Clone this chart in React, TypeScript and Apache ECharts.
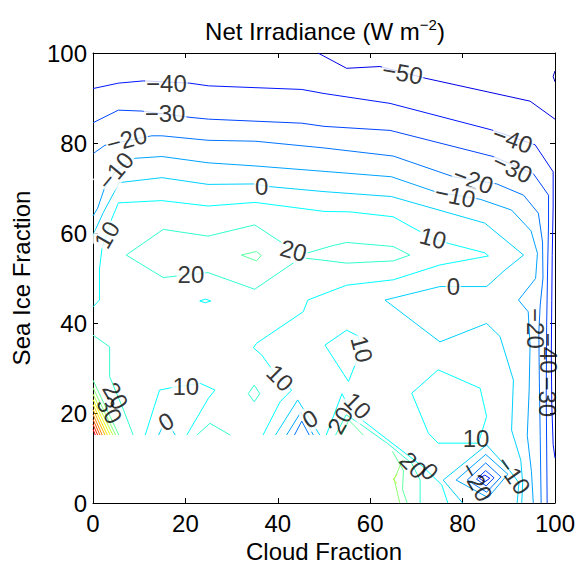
import React, { useEffect, useRef } from "react";
import * as echarts from "echarts";

const FONT = "'Liberation Sans', Arial, Helvetica, sans-serif";

const xTicks = [0, 20, 40, 60, 80, 100];
const yTicks = [0, 20, 40, 60, 80, 100];

// ---- contour polylines, [cloud fraction, sea ice fraction] ----
const cM60 = [[100, 96.0], [99.6, 94.8], [100, 93.6]];
const cM50 = [[48.7, 100], [54.9, 96.6], [62.1, 97.0], [71.9, 94.4], [94.6, 89.3], [100, 85.3]];
const cM40 = [[0, 92.1], [5.5, 93.3], [10.9, 93.8], [20.9, 93.3], [25.0, 92.7], [45.2, 91.9], [50, 91.0], [64.3, 88.8], [86.3, 82.9], [95.7, 79.6], [99.6, 73.6], [99.6, 66], [99.4, 55], [99.3, 45], [99.2, 33], [99.3, 22], [99.6, 13], [100, 10]];
const cM30 = [[0, 84.5], [5.5, 87.3], [10.5, 87.1], [21.0, 85.7], [25.0, 85.3], [45.2, 84.4], [50, 83.7], [64.3, 82.8], [86.6, 77.0], [95.3, 73.2], [98.6, 68.4], [98.6, 62], [98.4, 52], [98.2, 40], [98.1, 23.6], [98.2, 12], [98.3, 0]];
const cM20 = [[0.1, 77.7], [2.6, 79.5], [12.7, 81.6], [14.9, 81.6], [24.9, 80.6], [35.1, 80.4], [50, 78.9], [65.0, 77.1], [78.0, 72.5], [87.4, 70.9], [93.2, 68.4], [96.4, 64.4], [97.3, 58], [97.4, 50], [96.8, 44], [96.5, 38], [96.6, 28], [96.8, 15], [97.0, 0]];
const cM10 = [[0, 63.8], [1.0, 65.5], [2.5, 70.0], [4.9, 73.8], [9.1, 76.6], [14.9, 77.0], [24.9, 75.6], [35.1, 74.9], [50, 73.7], [64.6, 72.5], [74.0, 69.2], [83.8, 67.5], [90.6, 65.1], [94.8, 60.5], [96.2, 55.5], [95.8, 49.9], [92.1, 45.1], [94.2, 42.5], [94.6, 35], [94.4, 25], [94.0, 15], [94.9, 7], [95.3, 0]];
const c0 = [[0, 59.5], [2.2, 64.5], [5.7, 71.2], [14.9, 72.3], [24.9, 70.8], [34.7, 70.9], [38.3, 70.3], [50, 69.2], [64.6, 68.1], [84.8, 62.2], [93.2, 55.1], [89.2, 51.8], [85.2, 48.1], [75.1, 48.1], [63.2, 45.1], [75.1, 35.8], [85.2, 39.9], [88.1, 37.0], [91.0, 27.3], [90.6, 16.2], [92.6, 9.5], [93.0, 4.5], [92.8, 0]];
const c10 = [[0, 43.6], [1.4, 45.1], [1.4, 52], [2.0, 57], [3.0, 59.5], [3.8, 62.5], [5.5, 66.7], [14.9, 67.2], [24.9, 66.0], [35.1, 66.8], [50, 64.8], [55.6, 64.7], [65.0, 63.6], [70.8, 60.3], [73.7, 58.8], [76.9, 57.7], [84.8, 55.6], [85.6, 54.9], [83.0, 54.4], [75.1, 52.9], [65.0, 49.6], [54.9, 48.4], [51.3, 47.0], [46.5, 45.1], [45.5, 42.5], [35.4, 35.5], [34.7, 34.5], [36.5, 32.9], [39.6, 28.5], [43.0, 25.1], [40.5, 22.5], [36.8, 15.1]];
const c20 = [[7.2, 55.1], [15.2, 60.8], [24.9, 59.3], [35.0, 61.8], [41.1, 57.7], [46.2, 55.5], [51.9, 57.2], [54.9, 57.9], [65.0, 57.0], [68.6, 55.1], [65.0, 53.8], [54.9, 53.3], [49.5, 54.0], [45.0, 54.5], [35.0, 47.5], [24.9, 51.2], [15.2, 50.1], [7.2, 55.1]];
const c30Peak = [[32.1, 55.1], [35.4, 55.9], [36.4, 55.0], [35.4, 53.8], [32.1, 55.1]];
const c10Ellipse = [[23.1, 44.9], [24.3, 45.3], [25.5, 44.9], [24.3, 44.5], [23.1, 44.9]];
const c20Left = [[0, 37.3], [3.6, 34.7], [3.6, 28.1], [6.6, 20.7], [8.7, 15.1]];
const c10Hill = [[11.3, 15.1], [14.4, 25.1], [16.8, 25.6], [23.2, 26.6], [26.4, 25.1], [25.0, 23.3], [20.3, 15.1]];
const c0Small = [[14.2, 15.1], [15.8, 18.5], [17.8, 15.1]];
const c20Small = [[22.5, 15.1], [25.3, 17.7], [29.7, 15.1]];
const c20Diamond = [[33.6, 24.3], [34.9, 26.2], [36.1, 24.3], [34.9, 22.5], [33.6, 24.3]];
const c0Peak = [[39.5, 15.1], [44.3, 22.9], [49.1, 15.1]];
const cM10Peak = [[41.9, 15.1], [45.0, 20.2], [47.7, 15.1]];
const cM20Peak = [[43.6, 15.1], [45.2, 18.2], [46.8, 15.1]];
const c10Diamond = [[50.2, 35.1], [54.9, 38.4], [57.4, 37.1], [58.0, 34.0], [55.3, 27.0], [50.2, 35.1]];
const c10Fan = [[50.5, 15.1], [53.9, 24.3], [55.2, 21.5], [57.8, 18.8], [63.6, 14.2], [71.5, 8.0], [75.5, 4.0], [76.8, 0]];
const c20Fan = [[52.5, 15.1], [54.8, 19.6], [57.5, 17.8], [63.8, 13.2], [69.0, 8.8], [70.8, 5.1], [70.8, 0]];
const c30Fan = [[53.8, 15.1], [55.4, 18.4], [58.5, 15.1]];
const c30Fan2 = [[64.8, 11.5], [67.2, 7.2], [67.0, 3.0], [68.0, 0]];
const c40Fan = [[67.0, 9.5], [65.2, 5.3], [66.4, 0]];
const c50Fan = [[65.8, 6.3], [65.0, 5.3], [65.8, 4.3]];
const c10Hex = [[69.0, 24.4], [74.7, 29.6], [83.8, 25.5], [85.2, 19.2], [83.4, 13.3], [74.7, 13.3], [72.6, 15.5], [69.0, 24.4]];
const c0Pit = [[80.0, 0], [75.8, 5.1], [85.2, 12.9], [90.2, 7.2], [92.2, 4.5], [91.8, 0]];
const cM10Pit = [[78.6, 5.1], [85.0, 10.8], [89.8, 6.4], [85.5, 1.2], [78.6, 5.1]];
const cM20Pit = [[81.0, 5.1], [85.0, 8.9], [88.3, 5.8], [85.2, 2.4], [81.0, 5.1]];
const cM30Pit = [[83.0, 5.3], [85.0, 7.2], [86.8, 5.6], [85.1, 3.8], [83.0, 5.3]];
const cM40Pit = [[83.6, 5.5], [84.8, 6.2], [85.9, 5.5], [84.8, 4.7], [83.6, 5.5]];
// hatch of high values in the lower left corner
const c30Corner = [[0, 27.3], [5.6, 15.1]];
const c40Corner = [[0, 25.6], [4.9, 15.1]];
const c50Corner = [[0, 24.2], [4.3, 15.1]];
const c60Corner = [[0, 23.0], [3.7, 15.1]];
const c70Corner = [[0, 21.9], [3.1, 15.1]];
const c80Corner = [[0, 20.8], [2.6, 15.1]];
const c90Corner = [[0, 19.7], [2.0, 15.1]];
const c100Corner = [[0, 18.6], [1.5, 15.1]];
const c110Corner = [[0, 17.5], [1.0, 15.1]];
const c120Corner = [[0, 16.4], [0.5, 15.1]];

const contourLines: { level: number; pts: number[][] }[] = [
  { level: -60, pts: cM60 }, { level: -50, pts: cM50 }, { level: -40, pts: cM40 },
  { level: -30, pts: cM30 }, { level: -20, pts: cM20 }, { level: -10, pts: cM10 },
  { level: 0, pts: c0 }, { level: 10, pts: c10 }, { level: 20, pts: c20 },
  { level: 30, pts: c30Peak }, { level: 10, pts: c10Ellipse }, { level: 20, pts: c20Left },
  { level: 10, pts: c10Hill }, { level: 0, pts: c0Small }, { level: 20, pts: c20Small },
  { level: 20, pts: c20Diamond }, { level: 0, pts: c0Peak }, { level: -10, pts: cM10Peak },
  { level: -20, pts: cM20Peak }, { level: 10, pts: c10Diamond }, { level: 10, pts: c10Fan },
  { level: 20, pts: c20Fan }, { level: 30, pts: c30Fan }, { level: 30, pts: c30Fan2 },
  { level: 40, pts: c40Fan }, { level: 50, pts: c50Fan }, { level: 10, pts: c10Hex },
  { level: 0, pts: c0Pit }, { level: -10, pts: cM10Pit }, { level: -20, pts: cM20Pit },
  { level: -30, pts: cM30Pit }, { level: -40, pts: cM40Pit },
  { level: 30, pts: c30Corner }, { level: 40, pts: c40Corner }, { level: 50, pts: c50Corner },
  { level: 60, pts: c60Corner }, { level: 70, pts: c70Corner }, { level: 80, pts: c80Corner },
  { level: 90, pts: c90Corner }, { level: 100, pts: c100Corner }, { level: 110, pts: c110Corner },
  { level: 120, pts: c120Corner },
];

// contour labels [x, y, text]
const contourLabels: [number, number, string][] = [
  [67.0, 95.6, "−50"],
  [15.9, 93.3, "−40"], [90.8, 80.8, "−40"],
  [15.6, 86.6, "−30"], [90.8, 74.4, "−30"],
  [7.3, 80.8, "−20"], [82.3, 71.8, "−20"],
  [4.9, 73.8, "−10"], [78.4, 68.3, "−10"],
  [36.5, 70.4, "0"], [78.0, 48.1, "0"],
  [3.0, 59.6, "10"], [73.6, 58.9, "10"],
  [43.4, 56.1, "20"], [21.2, 50.8, "20"],
  [20.1, 25.9, "10"], [15.8, 18.1, "0"],
  [40.5, 27.8, "10"], [47.0, 18.7, "0"],
  [58.2, 34.2, "10"], [57.3, 21.6, "10"], [53.5, 18.4, "20"],
  [69.3, 8.4, "20"], [72.9, 7.0, "0"],
  [82.9, 14.4, "10"], [83.0, 4.7, "−20"], [91.0, 6.2, "−10"],
  [4.9, 23.8, "20"], [3.6, 20.6, "30"],
  [95.7, 38.8, "−20"], [98.6, 33.3, "−40"], [98.4, 23.6, "−30"],
];
const labelAngles = [
  -10, 0, -20, 0, -25, 15, -20, 50, -12, 0, 0, 60, -15, -15, 0,
  0, 30, -45, 30, -75, -45, 60, -45, -45, 0, -60, -55, -60, -60, -90, -90, -90,
];
const labelPlain = [21, 22, 23, 24, 25, 26, 27, 28, 29, 30, 31];

function jet(level: number): string {
  const t = (level + 72) / 218;
  const c = (v: number) => Math.round(Math.max(0, Math.min(1, v)) * 255);
  const r = c(Math.min(4 * t - 1.5, -4 * t + 4.5));
  const g = c(Math.min(4 * t - 0.5, -4 * t + 3.5));
  const b = c(Math.min(4 * t + 0.5, -4 * t + 2.5));
  return `rgb(${r},${g},${b})`;
}

export default function App() {
  const ref = useRef<HTMLDivElement>(null);
  useEffect(() => {
    document.body.style.margin = "0";
    const chart = echarts.init(ref.current!, undefined, { renderer: "svg" });
    const axisCommon = {
      type: "value" as const,
      min: 0,
      max: 100,
      interval: 20,
      splitLine: { show: false },
      axisLine: { show: true, onZero: false, lineStyle: { color: "#000", width: 1 } },
      axisTick: { show: true, inside: true, length: 5, lineStyle: { color: "#000" } },
    };
    const lineSeries = contourLines.map((c) => ({
      type: "line",
      data: c.pts,
      showSymbol: false,
      symbol: "none",
      silent: true,
      clip: true,
      z: 2,
      lineStyle: { color: jet(c.level), width: 1 },
    }));
    const labelSeries = {
      type: "scatter",
      symbolSize: 0,
      silent: true,
      z: 5,
      label: {
        show: true,
        position: "inside",
        fontSize: 24,
        fontFamily: FONT,
        color: "#000",
        backgroundColor: "#fff",
        padding: [0, 1],
      },
      data: contourLabels.map((l, i) => ({
        value: [l[0], l[1]],
        label: {
          rotate: labelAngles[i],
          formatter: l[2],
          backgroundColor: labelPlain.includes(i) ? "transparent" : "#fff",
        },
      })),
    };
    chart.setOption({
      animation: false,
      backgroundColor: "#fff",
      grid: { left: 93, right: 28, top: 53, bottom: 66 },
      xAxis: [
        {
          ...axisCommon,
          position: "bottom",
          axisLabel: { color: "#000", fontSize: 24, fontFamily: FONT, margin: 8, customValues: xTicks },
          name: "Cloud Fraction",
          nameLocation: "middle",
          nameGap: 34,
          nameTextStyle: { color: "#000", fontSize: 24, fontFamily: FONT },
        },
        { ...axisCommon, position: "top", axisLabel: { show: false } },
      ],
      yAxis: [
        {
          ...axisCommon,
          position: "left",
          axisLabel: { color: "#000", fontSize: 24, fontFamily: FONT, margin: 6, customValues: yTicks },
          name: "Sea Ice Fraction",
          nameLocation: "middle",
          nameGap: 60,
          nameTextStyle: { color: "#000", fontSize: 24, fontFamily: FONT },
        },
        { ...axisCommon, position: "right", axisLabel: { show: false } },
      ],
      graphic: [
        {
          type: "text",
          x: 325,
          y: 31,
          style: {
            text: "{a|Net Irradiance (W m}{b|−2}{a|)}",
            textAlign: "center",
            textVerticalAlign: "middle",
            rich: {
              a: { fontSize: 24, fontFamily: FONT, fill: "#000", lineHeight: 28 },
              b: { fontSize: 15, fontFamily: FONT, fill: "#000", lineHeight: 16, verticalAlign: "top" },
            },
          },
        },
      ],
      series: [...lineSeries, labelSeries],
    });
    return () => chart.dispose();
  }, []);
  return <div ref={ref} style={{ width: 583, height: 569 }} />;
}
